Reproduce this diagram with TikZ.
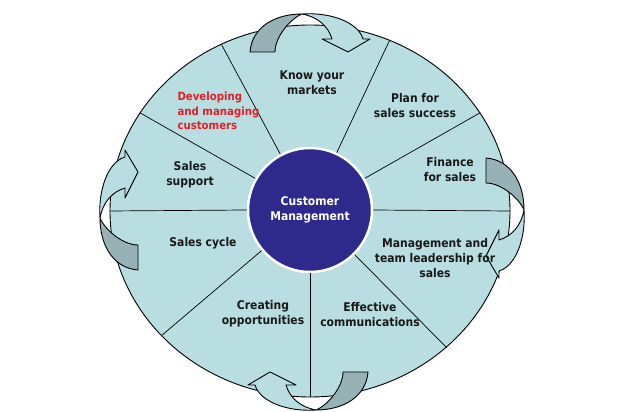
\documentclass[tikz,border=0pt]{standalone}
\usepackage{fontspec}
\setmainfont{DejaVu Sans Condensed}
\usetikzlibrary{shapes.geometric}
\definecolor{wheelB}{HTML}{B9DEE2}
\definecolor{backG}{HTML}{96B2B6}
\definecolor{coreB}{HTML}{2D2A8C}
\definecolor{devR}{HTML}{E31E24}

% one 3D turning arrow, base line on the x axis, bulging up
\newcommand{\turnarrow}[3]{%
  \begin{scope}[shift={(#1,#2)}, rotate=#3]
    \draw[backside] (-60,0) .. controls (-58,25) and (-35,38) .. (-8,38)
      .. controls (-20,33) and (-35,15) .. (-35,0) -- cycle;
    \draw[frontside] (-8,38) .. controls (20,40) and (48,30) .. (53,13)
      -- (60,13) -- (38,0) -- (12,13) -- (22,13)
      .. controls (18,26) and (8,35) .. (-8,38) -- cycle;
  \end{scope}}

\begin{document}
\begin{tikzpicture}[x=1pt, y=1pt,
  every node/.style={font=\bfseries\fontsize{12}{15}\selectfont},
  backside/.style={draw=black, line width=0.9pt, fill=backG, line join=round},
  frontside/.style={draw=black, line width=0.9pt, fill=wheelB, line join=round},
  lbl/.style={align=center, text=black!90},
  spoke/.style={draw=black, line width=0.7pt}
]
  \useasboundingbox (0,0) rectangle (619,412);
  \node[ellipse, draw, line width=0.9pt, fill=wheelB, minimum width=400pt,
        minimum height=372pt, inner sep=0pt] (wheel) at (310,201) {};
  \node[circle, fill=coreB, draw=white, line width=2.5pt, minimum size=124pt,
        inner sep=0pt, text=white, align=center] (core) at (310,202)
        {Customer\\Management};
  \foreach \a in {0,30,65,118,150,180,220,270,315}
    \draw[spoke] (core.\a) -- (wheel.\a);

  \turnarrow{310}{360}{0}
  \turnarrow{486}{194}{-90}
  \turnarrow{308}{40}{180}
  \turnarrow{138}{202}{90}

  \node[lbl] (know) at (312,329) {Know your\\markets};
  \node[lbl] (plan) at (415,306) {Plan for\\sales success};
  \node[lbl] (finance) at (450,242) {Finance\\for sales};
  \node[lbl] (mgmt) at (435,154) {Management and\\team leadership for\\sales};
  \node[lbl] (effective) at (370,97) {Effective\\communications};
  \node[lbl] (creating) at (263,98) {Creating\\opportunities};
  \node[lbl] (cycle) at (203,169) {Sales cycle};
  \node[lbl] (support) at (190,237) {Sales\\support};
  \node[align=left, anchor=west, text=devR,
        font=\bfseries\fontsize{11.3}{14.5}\selectfont] (develop) at (174,301)
        {Developing\\and managing\\customers};
\end{tikzpicture}
\end{document}
